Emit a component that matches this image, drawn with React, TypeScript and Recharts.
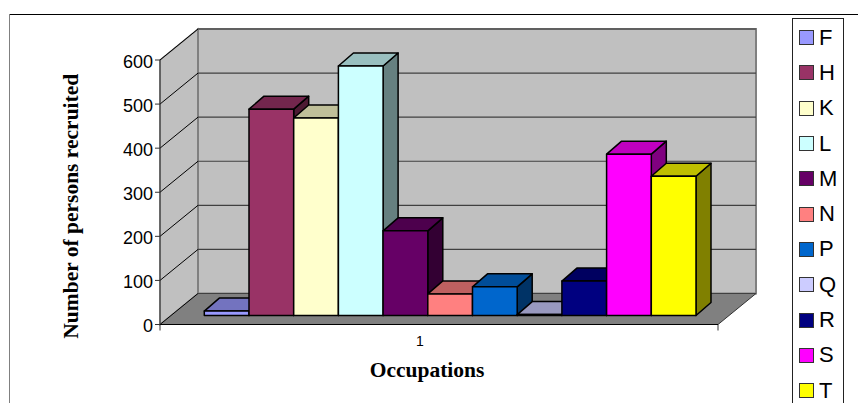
import { BarChart, Bar, XAxis, YAxis, CartesianGrid, Legend, ReferenceArea } from 'recharts';

// Occupation codes, one series per code; the chart has a single category "1"
const categories = ['1'];
const seriesNames = ['F', 'H', 'K', 'L', 'M', 'N', 'P', 'Q', 'R', 'S', 'T'];
const seriesValues = [10, 468, 448, 566, 192, 49, 65, 2, 78, 366, 316];
const seriesColors = ['#9999FF', '#993366', '#FFFFCC', '#CCFFFF', '#660066', '#FF8080', '#0066CC', '#CCCCFF', '#000080', '#FF00FF', '#FFFF00'];
const yTicks = [0, 100, 200, 300, 400, 500, 600];

const data = categories.map((name) => {
  const row: Record<string, string | number> = { name };
  seriesNames.forEach((s, i) => {
    row[s] = seriesValues[i];
  });
  return row;
});

// 3D projection offsets
const WALL_DX = 38;
const WALL_DY = -31;
const BAR_SHIFT_X = 11.3;
const BAR_SHIFT_Y = -9;
const BAR_DX = 15;
const BAR_DY = -13;

function shade(hex: string, k: number) {
  const n = parseInt(hex.slice(1), 16);
  const r = Math.round(((n >> 16) & 255) * k);
  const g = Math.round(((n >> 8) & 255) * k);
  const b = Math.round((n & 255) * k);
  return `rgb(${r},${g},${b})`;
}

function Box3D(props: any) {
  const { x, y, width, height, fill } = props;
  const l = x + BAR_SHIFT_X;
  const t = y + BAR_SHIFT_Y;
  const r = l + width;
  const b = t + height;
  return (
    <g stroke="#000" strokeWidth={1.5} strokeLinejoin="round">
      <polygon points={`${r},${t} ${r + BAR_DX},${t + BAR_DY} ${r + BAR_DX},${b + BAR_DY} ${r},${b}`} fill={shade(fill, 0.5)} />
      <polygon points={`${l},${t} ${l + BAR_DX},${t + BAR_DY} ${r + BAR_DX},${t + BAR_DY} ${r},${t}`} fill={shade(fill, 0.75)} />
      <rect x={l} y={t} width={width} height={height} fill={fill} />
    </g>
  );
}

function Walls(props: any) {
  const { x, y, width, height } = props;
  const r = x + width;
  const b = y + height;
  return (
    <g>
      <polygon points={`${x},${b} ${r},${b} ${r + WALL_DX},${b + WALL_DY} ${x + WALL_DX},${b + WALL_DY}`} fill="#808080" />
      <polygon points={`${x},${y} ${x + WALL_DX},${y + WALL_DY} ${x + WALL_DX},${b + WALL_DY} ${x},${b}`} fill="#C0C0C0" stroke="#808080" strokeWidth={1.5} />
      <rect x={x + WALL_DX} y={y + WALL_DY} width={width} height={height} fill="#C0C0C0" stroke="#808080" strokeWidth={2} />
      <line x1={x} y1={b} x2={x} y2={b + 6} stroke="#333" />
      <line x1={r} y1={b} x2={r} y2={b + 6} stroke="#333" />
      <line x1={r} y1={b} x2={r + WALL_DX} y2={b + WALL_DY} stroke="#333" />
    </g>
  );
}

function GridLine3D(props: any) {
  const { x1, y1, x2 } = props;
  return (
    <g>
      <line x1={x1} y1={y1} x2={x1 + WALL_DX} y2={y1 + WALL_DY} stroke="#000" strokeWidth={1} />
      <line x1={x1 + WALL_DX} y1={y1 + WALL_DY} x2={x2 + WALL_DX} y2={y1 + WALL_DY} stroke="#404040" strokeWidth={1.2} />
    </g>
  );
}

function LegendBox(props: any) {
  const items = props.payload ?? [];
  return (
    <div style={{ boxSizing: 'border-box', width: 52, height: 390, border: '1px solid #222', borderBottom: 'none', paddingLeft: 6, paddingTop: 1 }}>
      {items.map((it: any) => (
        <div key={it.value} style={{ display: 'flex', alignItems: 'center', height: 35.3, fontFamily: 'Liberation Sans', fontSize: 22, color: '#000' }}>
          <span style={{ boxSizing: 'border-box', width: 15, height: 15, background: it.color, border: '1.5px solid #333', marginRight: 5 }} />
          {it.value}
        </div>
      ))}
    </div>
  );
}

function OneTick(props: any) {
  const { y, payload } = props;
  return (
    <text x={420} y={y + 13} textAnchor="middle" fontFamily="Liberation Sans" fontSize={14} fill="#000">
      {payload.value}
    </text>
  );
}

export default function App() {
  return (
    <div style={{ position: 'absolute', left: 0, top: 0, width: 858, height: 403, overflow: 'hidden', background: '#fff' }}>
      <div style={{ position: 'absolute', left: 9, top: 14, right: 0, height: 1, background: '#000' }} />
      <div style={{ position: 'absolute', left: 9, top: 14, bottom: 0, width: 1, background: '#808080' }} />
      <BarChart
        width={858}
        height={403}
        data={data}
        margin={{ top: 60, right: 140, bottom: 48.5, left: 100 }}
        barSize={44.7}
        barGap={0}
      >
        <ReferenceArea y1={0} y2={600} shape={<Walls />} ifOverflow="visible" zIndex={-200} />
        <CartesianGrid vertical={false} horizontal={(p: any) => <GridLine3D key={p.y1} {...p} />} zIndex={-100} />
        <XAxis
          dataKey="name"
          height={30}
          stroke="#000"
          tick={<OneTick />}
          tickLine={false}
          label={{ value: 'Occupations', position: 'insideBottom', offset: -22, dx: -12, style: { fontFamily: 'Liberation Serif', fontWeight: 'bold', fontSize: 21.5, fill: '#000' } }}
        />
        <YAxis
          type="number"
          width={60}
          domain={[0, 600]}
          ticks={yTicks}
          interval={0}
          stroke="#333"
          tickSize={5}
          tick={{ fontFamily: 'Liberation Sans', fontSize: 18, fill: '#000', dy: 1.5 }}
          label={{ value: 'Number of persons recruited', angle: -90, position: 'insideLeft', dx: -35, dy: 14, style: { fontFamily: 'Liberation Serif', fontWeight: 'bold', fontSize: 21.5, fill: '#000', textAnchor: 'middle' } }}
        />
        <Legend content={<LegendBox />} layout="vertical" align="center" verticalAlign="middle" wrapperStyle={{ position: 'absolute', left: 792, top: 18, width: 52 }} />
        {seriesNames.map((s, i) => (
          <Bar key={s} dataKey={s} fill={seriesColors[i]} shape={<Box3D />} isAnimationActive={false} />
        ))}
      </BarChart>
    </div>
  );
}
